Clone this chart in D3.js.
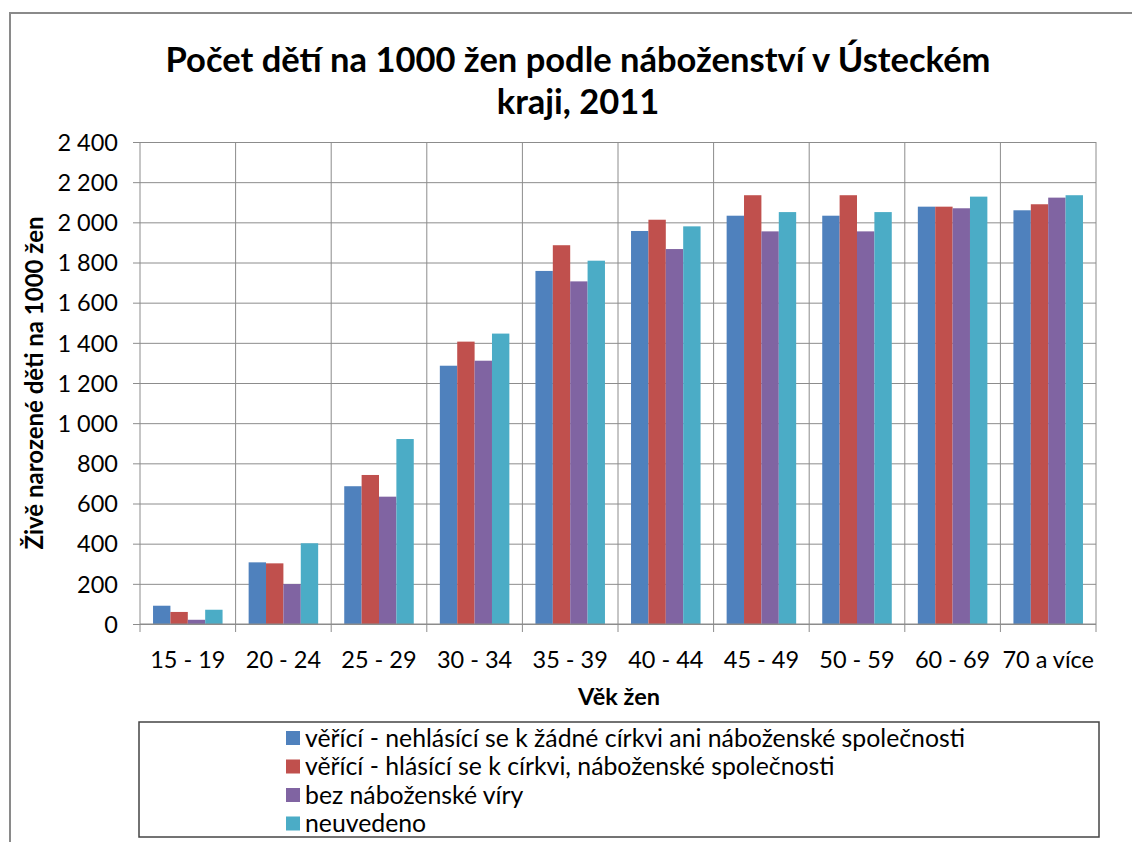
<!DOCTYPE html>
<html><head><meta charset="utf-8">
<script src="https://cdn.jsdelivr.net/npm/d3@7"></script>
<style>
html,body{margin:0;padding:0;background:#fff;}
svg text{font-family:Lato,"Open Sans",sans-serif;fill:#000;}
</style></head>
<body><svg id="c" width="1132" height="842"></svg>
<script>
const categories = ["15 - 19","20 - 24","25 - 29","30 - 34","35 - 39","40 - 44","45 - 49","50 - 59","60 - 69","70 a více"];
const seriesNames = [
  "věřící - nehlásící se k žádné církvi ani náboženské společnosti",
  "věřící - hlásící se k církvi, náboženské společnosti",
  "bez náboženské víry",
  "neuvedeno"
];
const vericiNehlasici = [91, 307, 686, 1286, 1758, 1957, 2033, 2033, 2078, 2060];
const vericiHlasici   = [60, 302, 742, 1406, 1886, 2013, 2135, 2135, 2078, 2090];
const bezViry         = [21, 199, 634, 1311, 1706, 1867, 1955, 1955, 2070, 2123];
const neuvedeno       = [71, 402, 921, 1446, 1809, 1980, 2051, 2051, 2128, 2135];
const yTicks = [0,200,400,600,800,1000,1200,1400,1600,1800,2000,2200,2400];
const colors = ["#4F81BD","#C0504D","#8064A2","#4BACC6"];

const seriesValues = [vericiNehlasici, vericiHlasici, bezViry, neuvedeno];
const svg = d3.select("#c");
const m = {left:140, right:1096, top:142, bottom:624};

// chart border
svg.append("path").attr("d","M10,842 L10,13 L1132,13").attr("fill","none").attr("stroke","#8a8a8a").attr("stroke-width",2);

const x = d3.scaleBand().domain(categories).range([m.left, m.right]).paddingInner(0).paddingOuter(0);
const gap = 1.5; // gap width 150%
const bw = x.bandwidth()/(seriesNames.length+gap);
const xs = d3.scaleBand().domain(d3.range(seriesNames.length))
  .range([bw*gap/2, bw*gap/2 + bw*seriesNames.length]);
const y = d3.scaleLinear().domain([0,2400]).range([m.bottom, m.top]);
const loc = d3.formatLocale({decimal:",", thousands:" ", grouping:[3], currency:["",""]});
const fmt = loc.format(",d");

// horizontal gridlines with tick marks
const gy = svg.append("g").attr("transform",`translate(${m.left},0)`)
  .call(d3.axisLeft(y).tickValues(yTicks).tickSize(-(m.right-m.left)).tickSizeOuter(0).tickFormat(fmt).tickPadding(22));
gy.select(".domain").remove();
gy.selectAll(".tick line").attr("stroke","#8c8c8c").attr("x1",-7);
gy.selectAll(".tick text").attr("font-size",23.5).attr("dy","0.35em").attr("fill","#000");

// vertical gridlines at category boundaries
const bounds = categories.map(c=>x(c)).concat([m.right]);
svg.append("g").selectAll("line").data(bounds).join("line")
  .attr("x1",d=>d).attr("x2",d=>d).attr("y1",m.top).attr("y2",m.bottom+8)
  .attr("stroke","#8c8c8c").attr("stroke-width",1);

// bars
const groups = svg.append("g").selectAll("g").data(categories).join("g")
  .attr("transform",c=>`translate(${x(c)},0)`);
groups.selectAll("rect").data((c,i)=>seriesValues.map((s,j)=>({j,v:s[i]}))).join("rect")
  .attr("x",d=>xs(d.j)).attr("width",xs.bandwidth())
  .attr("y",d=>y(d.v)).attr("height",d=>y(0)-y(d.v))
  .attr("fill",d=>colors[d.j]);

// x axis line
svg.append("line").attr("x1",m.left).attr("x2",m.right).attr("y1",m.bottom).attr("y2",m.bottom).attr("stroke","#8c8c8c");

// x labels
svg.append("g").selectAll("text").data(categories).join("text")
  .attr("x",c=>x(c)+x.bandwidth()/2).attr("y",660).attr("dy","0.35em")
  .attr("text-anchor","middle").attr("font-size",23.5).text(d=>d);

// title
svg.append("text").attr("x",578).attr("y",60).attr("dy","0.35em").attr("text-anchor","middle")
  .attr("font-size",34.5).attr("font-weight","bold").text("Počet dětí na 1000 žen podle náboženství v Ústeckém");
svg.append("text").attr("x",578).attr("y",102).attr("dy","0.35em").attr("text-anchor","middle")
  .attr("font-size",34.5).attr("font-weight","bold").text("kraji, 2011");

// axis titles
svg.append("text").attr("x",619).attr("y",697).attr("dy","0.35em").attr("text-anchor","middle")
  .attr("font-size",23.5).attr("font-weight","bold").text("Věk žen");
svg.append("text").attr("transform","translate(35,383) rotate(-90)").attr("dy","0.35em").attr("text-anchor","middle")
  .attr("font-size",24).attr("font-weight","bold").text("Živě narozené děti na 1000 žen");

// legend
svg.append("rect").attr("x",139).attr("y",722).attr("width",960).attr("height",115)
  .attr("fill","#fff").attr("stroke","#444").attr("stroke-width",1.5);
const lg = svg.append("g").selectAll("g").data(seriesNames).join("g")
  .attr("transform",(d,i)=>`translate(286,${738+i*28.5})`);
lg.append("rect").attr("x",0).attr("y",-7).attr("width",14).attr("height",14).attr("fill",(d,i)=>colors[i]);
lg.append("text").attr("x",19).attr("y",0).attr("dy","0.35em").attr("font-size",24.8).text(d=>d);
</script></body></html>
